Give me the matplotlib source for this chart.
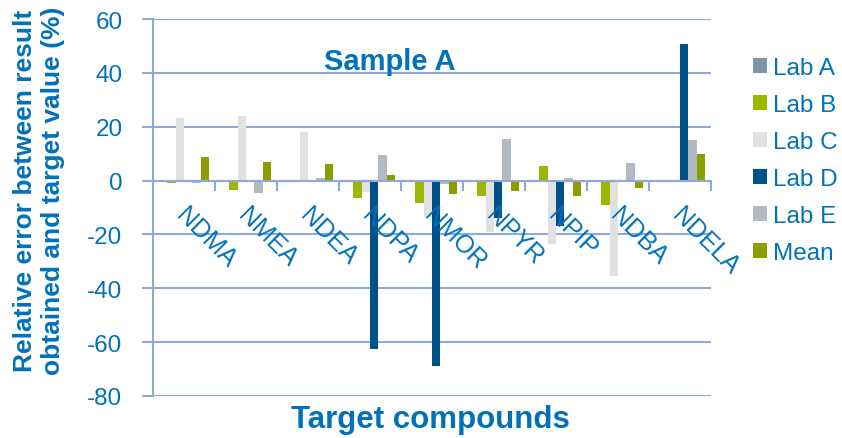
import numpy as np
import matplotlib
matplotlib.use("Agg")
import matplotlib.pyplot as plt

plt.rcParams["font.family"] = ["Liberation Sans", "DejaVu Sans"]
plt.rcParams["axes.unicode_minus"] = False

compounds = ["NDMA", "NMEA", "NDEA", "NDPA", "NMOR", "NPYR", "NPIP", "NDBA", "NDELA"]
series_names = ["Lab A", "Lab B", "Lab C", "Lab D", "Lab E", "Mean"]

lab_a = [0, 0, 0, 0, 0, 0, 0, 0, 0]
lab_b = [-1, -3.5, 0, -6.3, -8.4, -5.8, 5.5, -9.2, 0]
lab_c = [23.3, 24, 18, -4.3, -13.6, -19, -23.6, -35.5, 0]
lab_d = [0, 0, 0, -62.6, -69, -13.8, -17, 0, 50.7]
lab_e = [-1, -4.8, 1.1, 9.6, -1.3, 15.4, 1.1, 6.6, 15]
mean = [8.9, 7, 6.3, 2, -4.9, -4, -5.9, -2.7, 10]

colors = ["#7F95AA", "#9BB700", "#E1E1E1", "#00508A", "#B1BAC3", "#8B9E00"]
text_blue = "#0071BB"
grid_blue = "#8FA9D8"

fig = plt.figure(figsize=(8.42, 4.39), dpi=100)
ax = fig.add_axes([153 / 842, 1 - 397 / 439, (711 - 153) / 842, (397 - 20) / 439])

x = np.arange(len(compounds))
w = 0.8 / 6
for k, vals in enumerate([lab_a, lab_b, lab_c, lab_d, lab_e, mean]):
    ax.bar(x + (k - 2.5) * w, vals, width=w, color=colors[k],
           label=series_names[k], zorder=3)

ax.set_xlim(-0.5, len(compounds) - 0.5)
ax.set_ylim(-80, 60)
ax.set_yticks(np.arange(-80, 61, 20))
ax.yaxis.grid(True, color=grid_blue, linewidth=1.5)
ax.set_axisbelow(True)

for side in ["top", "right"]:
    ax.spines[side].set_visible(False)
ax.spines["left"].set_color(grid_blue)
ax.spines["left"].set_linewidth(1.5)
ax.spines["bottom"].set_position(("data", 0))
ax.spines["bottom"].set_color(grid_blue)
ax.spines["bottom"].set_linewidth(1.5)
ax.spines["bottom"].set_zorder(4)

# boundary ticks between compound groups on the zero line
ax.set_xticks(x + 0.5)
ax.set_xticklabels([])
ax.tick_params(axis="x", direction="out", length=7, width=1.5, color=grid_blue)
ax.tick_params(axis="y", direction="out", length=8, width=1.5, color=grid_blue,
               labelsize=17.5, labelcolor=text_blue, pad=14)

for i, name in enumerate(compounds):
    ax.text(i + 0.07, -8, name, rotation=-45, rotation_mode="anchor",
            ha="left", va="top", fontsize=18, color=text_blue, zorder=5)

ax.text(3.32, 44.5, "Sample A", ha="center", va="center", fontsize=21,
        fontweight="bold", color=text_blue)

fig.text(39 / 842, 1 - 191 / 439,
         "Relative error between result\nobtained and target value (%)",
         rotation=90, ha="center", va="center", multialignment="center",
         fontsize=19, fontweight="bold", color=text_blue, linespacing=1.25)
fig.text(430 / 842, 1 - 420 / 439, "Target compounds", ha="center", va="center",
         fontsize=22.5, fontweight="bold", color=text_blue)

leg = fig.legend(loc="upper left", bbox_to_anchor=(753 / 842, 1 - 58 / 439),
                 frameon=False, fontsize=17.5, handlelength=0.58, handleheight=0.58,
                 handletextpad=0.25, labelspacing=0.62, borderpad=0, borderaxespad=0)
for t in leg.get_texts():
    t.set_color(text_blue)

fig.savefig("out.png", dpi=100)
